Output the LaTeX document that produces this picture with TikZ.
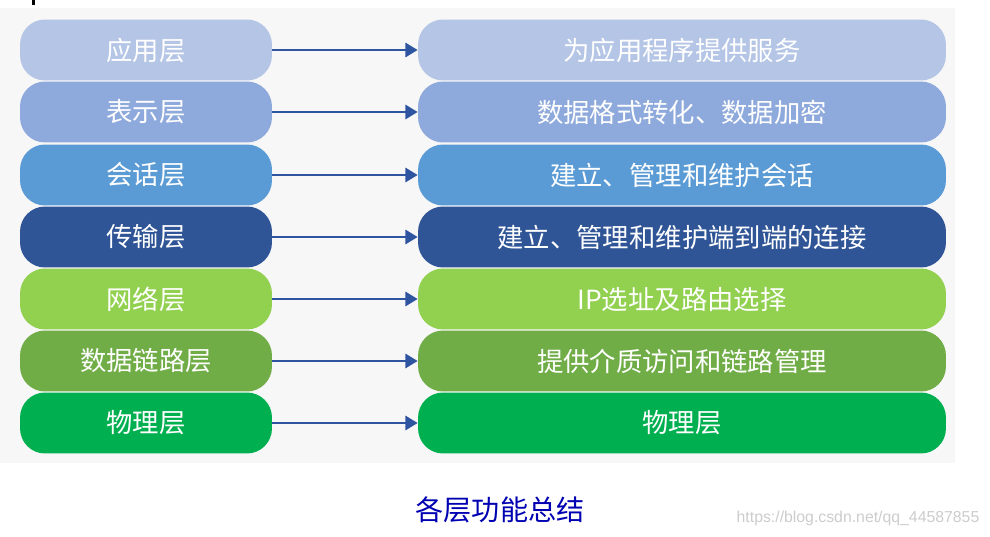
\documentclass[tikz,border=0pt]{standalone}
\usepackage{fontspec}
\setmainfont{Noto Sans CJK SC}
\setsansfont{Liberation Sans}
\usetikzlibrary{arrows.meta}
\definecolor{cApp}{HTML}{B4C5E6}
\definecolor{cPre}{HTML}{8EA9DB}
\definecolor{cSes}{HTML}{5B9BD5}
\definecolor{cTra}{HTML}{2F5597}
\definecolor{cNet}{HTML}{92D050}
\definecolor{cLnk}{HTML}{70AD47}
\definecolor{cPhy}{HTML}{00B050}
\definecolor{cArr}{HTML}{2F55A0}
\begin{document}
\begin{tikzpicture}[x=0.02cm,y=-0.02cm]
  \tikzstyle{layer}=[rounded corners=0.5cm,minimum height=1.22cm,text=white,
    inner sep=0pt,font=\fontsize{15}{18}\selectfont]
  \tikzstyle{left box}=[layer,minimum width=5.04cm]
  \tikzstyle{right box}=[layer,minimum width=10.56cm]
  \tikzstyle{link}=[draw=cArr,line width=1.6pt,-{Triangle[length=7pt,width=8pt]}]
  \useasboundingbox (0,0) rectangle (990,537);
  \fill[gray!6] (0,8) rectangle (955,463);
  \fill[black] (32,0) rectangle (35,5);
  % layers
  \node[left box,fill=cApp] (app) at (146,50) {应用层};
  \node[left box,fill=cPre] (pre) at (146,112) {表示层};
  \node[left box,fill=cSes] (ses) at (146,175) {会话层};
  \node[left box,fill=cTra] (tra) at (146,237) {传输层};
  \node[left box,fill=cNet] (net) at (146,299) {网络层};
  \node[left box,fill=cLnk] (lnk) at (146,361) {数据链路层};
  \node[left box,fill=cPhy] (phy) at (146,423) {物理层};
  % functions
  \node[right box,fill=cApp] (appf) at (682,50) {为应用程序提供服务};
  \node[right box,fill=cPre] (pref) at (682,112) {数据格式转化、数据加密};
  \node[right box,fill=cSes] (sesf) at (682,175) {建立、管理和维护会话};
  \node[right box,fill=cTra] (traf) at (682,237) {建立、管理和维护端到端的连接};
  \node[right box,fill=cNet] (netf) at (682,299) {IP选址及路由选择};
  \node[right box,fill=cLnk] (lnkf) at (682,361) {提供介质访问和链路管理};
  \node[right box,fill=cPhy] (phyf) at (682,423) {物理层};
  \draw[link] (app) -- (appf);
  \draw[link] (pre) -- (pref);
  \draw[link] (ses) -- (sesf);
  \draw[link] (tra) -- (traf);
  \draw[link] (net) -- (netf);
  \draw[link] (lnk) -- (lnkf);
  \draw[link] (phy) -- (phyf);
  \node[text=blue!70!black,font=\fontsize{16}{19}\selectfont] (title) at (500,510) {各层功能总结};
  \node[text=gray!40,font=\sffamily\fontsize{9}{11}\selectfont] (mark) at (858,518) {https://blog.csdn.net/qq\_44587855};
\end{tikzpicture}
\end{document}
